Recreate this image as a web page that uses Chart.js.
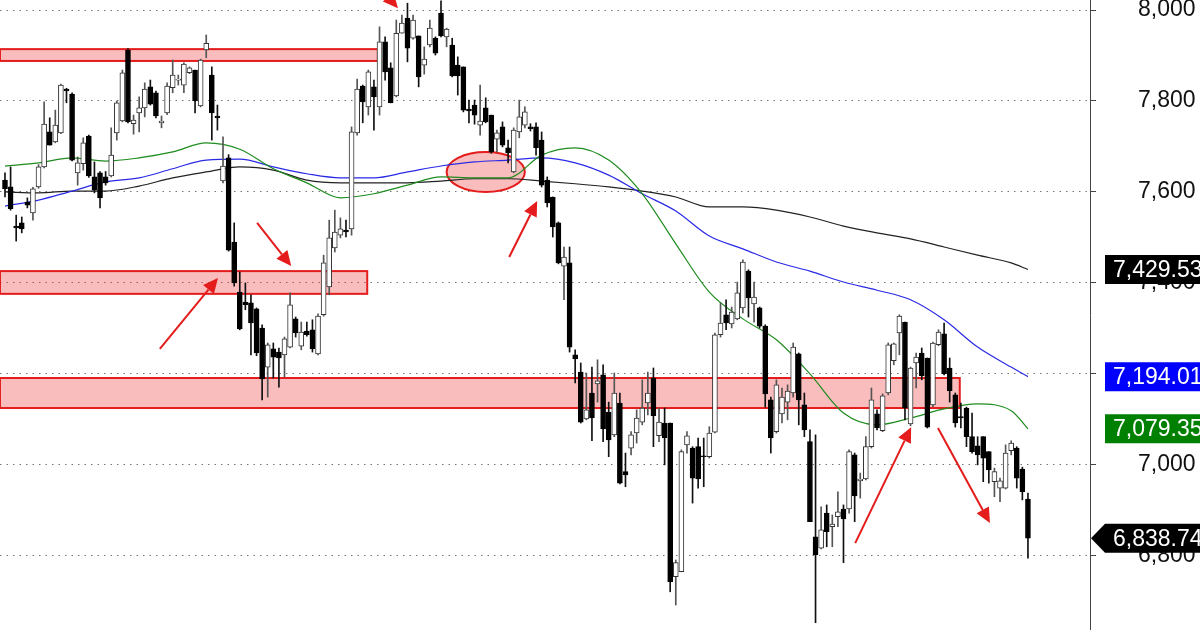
<!DOCTYPE html>
<html><head><meta charset="utf-8">
<script src="https://cdn.jsdelivr.net/npm/chart.js@4.4.1/dist/chart.umd.min.js"></script>
<style>html,body{margin:0;padding:0;background:#fff;overflow:hidden}#wrap{width:1200px;height:630px}</style>
</head><body><div id="wrap"><canvas id="c" width="1200" height="630"></canvas></div>
<script>
// ---- candle data (one per session) ----
const OPEN=[7626,7611,7525,7532,7578,7554,7611,7655,7732,7710,
7730,7826,7815,7642,7662,7723,7633,7642,7633,7635,
7730,7756,7912,7750,7774,7785,7831,7818,7752,7774,
7829,7846,7835,7862,7868,7789,7912,7857,7767,7624,
7675,7490,7380,7358,7356,7343,7301,7215,7255,7248,
7242,7259,7321,7261,7294,7297,7244,7330,7391,7477,
7505,7516,7519,7730,7833,7787,7831,7787,7930,7873,
7811,7949,7982,7938,7943,7879,7923,7938,7993,7941,
7923,7879,7875,7782,7791,7747,7785,7769,7716,7743,
7697,7644,7732,7747,7743,7743,7714,7626,7589,7532,
7437,7444,7242,7204,7101,7158,7178,7198,7116,7066,
7136,6985,7037,7070,7094,7136,7191,7064,7092,7092,
6754,6765,7044,7037,7040,7020,7018,7072,7286,7330,
7310,7321,7345,7426,7354,7345,7305,7143,7073,7112,
7138,7158,7244,7132,7051,6842,6817,6894,6864,6886,
6903,6903,7022,6965,6969,7040,7112,7075,7158,7229,
7290,7314,7090,7224,7246,7235,7132,7264,7288,7213,
7154,7106,7125,7062,7042,7062,7029,6963,6949,6949,
7031,7037,6991,6925];
const HIGH=[7642,7655,7549,7545,7587,7610,7660,7798,7763,7780,
7837,7828,7818,7677,7719,7725,7666,7645,7645,7741,
7800,7868,7915,7769,7809,7840,7846,7822,7767,7840,
7890,7857,7884,7875,7868,7892,7945,7875,7791,7721,
7682,7532,7424,7400,7374,7345,7308,7268,7268,7257,
7281,7378,7325,7314,7314,7319,7332,7461,7538,7560,
7543,7538,7743,7848,7835,7868,7846,7963,7941,7884,
7978,7989,8015,7989,7943,7919,7978,7941,8020,7960,
7938,7897,7875,7802,7802,7835,7807,7769,7736,7754,
7714,7741,7802,7787,7750,7752,7732,7633,7589,7534,
7479,7479,7253,7224,7202,7215,7231,7220,7138,7202,
7158,7026,7073,7121,7187,7204,7213,7125,7125,7092,
6791,7033,7073,7040,7059,7059,7084,7290,7356,7363,
7347,7402,7451,7429,7402,7347,7308,7149,7187,7169,
7176,7268,7246,7158,7077,7066,6908,6912,6890,6941,
6912,7033,7026,6982,7062,7169,7121,7156,7268,7268,
7330,7314,7215,7246,7257,7235,7270,7297,7312,7235,
7158,7136,7127,7114,7062,7062,7029,6993,6971,7044,
7053,7040,6995,6938];
const LOW=[7589,7560,7492,7510,7565,7538,7608,7653,7703,7708,
7728,7796,7668,7615,7648,7632,7598,7565,7615,7633,
7714,7754,7752,7727,7732,7765,7791,7763,7741,7770,
7818,7835,7818,7860,7774,7787,7895,7714,7736,7620,
7470,7393,7297,7341,7242,7240,7143,7149,7191,7171,
7193,7257,7281,7253,7283,7248,7242,7327,7374,7468,
7499,7501,7505,7725,7752,7769,7736,7769,7846,7796,
7809,7949,7886,7936,7831,7859,7919,7901,7941,7919,
7853,7813,7776,7752,7749,7725,7752,7685,7688,7699,
7664,7642,7719,7741,7734,7681,7611,7567,7501,7442,
7363,7248,7180,7092,7099,7053,7138,7051,7018,7062,
6958,6952,7022,7048,7088,7110,7040,7051,7000,6721,
6692,6765,7026,6916,6949,6952,7015,7070,7281,7297,
7301,7319,7334,7325,7314,7301,7127,7026,7070,7092,
7099,7149,7088,7062,6875,6653,6815,6820,6820,6864,
6785,6894,6875,6927,6967,7037,7077,7073,7154,7220,
7242,7099,7086,7169,7187,7081,7128,7262,7198,7138,
7083,7081,7040,7026,7000,6963,6960,6930,6919,6947,
7022,6949,6923,6795];
const CLOSE=[7607,7563,7521,7519,7571,7607,7655,7749,7703,7747,
7835,7822,7670,7664,7708,7635,7604,7587,7620,7681,
7796,7862,7754,7758,7785,7826,7793,7767,7756,7833,
7857,7848,7881,7873,7800,7890,7927,7774,7763,7657,
7472,7400,7299,7352,7312,7246,7189,7264,7237,7235,
7277,7352,7290,7292,7286,7255,7327,7444,7499,7512,
7519,7512,7732,7826,7798,7864,7809,7930,7864,7796,
7949,7971,7916,7978,7853,7892,7960,7905,7943,7958,
7855,7855,7780,7778,7769,7756,7754,7688,7730,7703,
7686,7736,7765,7776,7739,7697,7615,7576,7523,7444,
7457,7259,7233,7094,7121,7103,7185,7079,7055,7158,
6960,6978,7066,7103,7125,7158,7108,7094,7059,6743,
6785,7029,7064,6971,6969,7018,7070,7286,7312,7312,
7336,7378,7446,7367,7369,7305,7156,7059,7176,7149,
7162,7259,7143,7077,6875,6802,6857,6853,6870,6897,
6881,7029,6932,6969,7040,7143,7081,7152,7264,7266,
7327,7125,7213,7237,7196,7083,7268,7292,7200,7163,
7092,7103,7062,7029,7022,7015,6989,6985,6965,7026,
7048,6971,6941,6838.74];

// ---- moving averages, read at these candle indices ----
const MA_IDX=[0,6,12,18,24,30,36,42,48,54,60,66,72,78,84,90,96,102,108,114,120,126,132,138,144,150,156,162,168,174,180,183];
const MA_FAST=[7657,7664,7675,7668,7675,7688,7708,7694,7651,7620,7587,7596,7615,7633,7631,7631,7681,7697,7670,7596,7486,7380,7321,7275,7200,7114,7088,7103,7123,7134,7119,7079.35];
const MA_MID=[7569,7582,7602,7622,7631,7651,7670,7672,7655,7640,7631,7631,7644,7657,7666,7670,7675,7664,7637,7596,7558,7503,7475,7446,7426,7402,7384,7363,7319,7259,7215,7194.01];
const MA_SLOW=[7600,7598,7602,7602,7613,7631,7644,7655,7648,7626,7620,7620,7620,7624,7629,7629,7624,7618,7611,7602,7589,7567,7567,7560,7545,7525,7510,7497,7479,7461,7444,7429.53];

// ---- axis ticks ----
const Y_TICKS=[6800,7000,7200,7400,7600,7800,8000];

// ---- price tags on the axis ----
const TAG_VALUES=[7429.53,7194.01,7079.35,6838.74];

// ---- drawn annotations (candle index / price) ----
const ZONE_FROM=[-0.9,-0.9,-0.9];
const ZONE_TO=[66.7,64.8,170.8];
const ZONE_LOW=[7888,7376,7125];
const ZONE_HIGH=[7914,7426,7191];
const ELLIPSE_IDX=[86.0], ELLIPSE_VAL=[7644], ELLIPSE_RIDX=[7.0], ELLIPSE_RVAL=[44];
const ARROW_FROM_IDX=[27.7,45.1,90.2,152.1,166.9,64.4];
const ARROW_FROM_VAL=[7255,7532,7457,6828,7081,8088];
const ARROW_TO_IDX=[38.1,51.2,95.2,162.1,176.2,70.3];
const ARROW_TO_VAL=[7411,7437,7580,7083,6872,8004];

// ---- styles ----
const TAG_COLORS=['#000000','#0000ff','#008000','#000000'];
const TAG_POINTER=[false,false,false,true];
const FONT='"Liberation Sans", Arial, sans-serif';
const RED='#e41c1c', PINK='rgba(238,50,50,0.32)';

const N=OPEN.length;
const idx=[...Array(N).keys()];
const up=idx.map(i=>CLOSE[i]>=OPEN[i]);
const fmt=v=>v.toLocaleString('en-US');

const bgPlugin={id:'bg',beforeDraw(ch){const c=ch.ctx;c.save();c.fillStyle='#fff';c.fillRect(0,0,ch.width,ch.height);c.restore();}};

const annoPlugin={id:'anno',
 beforeDatasetsDraw(ch){
  const c=ch.ctx,xs=ch.scales.x,ys=ch.scales.y,a=ch.chartArea;
  c.save();c.beginPath();c.rect(a.left,a.top,a.right-a.left,a.bottom-a.top);c.clip();
  for(let k=0;k<ZONE_FROM.length;k++){
   const x0=xs.getPixelForValue(ZONE_FROM[k]),x1=xs.getPixelForValue(ZONE_TO[k]);
   const y0=ys.getPixelForValue(ZONE_HIGH[k]),y1=ys.getPixelForValue(ZONE_LOW[k]);
   c.fillStyle=PINK;c.fillRect(x0,y0,x1-x0,y1-y0);
   c.strokeStyle=RED;c.lineWidth=2;c.strokeRect(x0,y0,x1-x0,y1-y0);
  }
  for(let k=0;k<ELLIPSE_IDX.length;k++){
   const cx=xs.getPixelForValue(ELLIPSE_IDX[k]),cy=ys.getPixelForValue(ELLIPSE_VAL[k]);
   const rx=Math.abs(xs.getPixelForValue(ELLIPSE_IDX[k]+ELLIPSE_RIDX[k])-cx);
   const ry=Math.abs(ys.getPixelForValue(ELLIPSE_VAL[k]+ELLIPSE_RVAL[k])-cy);
   c.beginPath();c.ellipse(cx,cy,rx,ry,0,0,Math.PI*2);
   c.fillStyle=PINK;c.fill();c.strokeStyle=RED;c.lineWidth=2;c.stroke();
  }
  c.restore();
 },
 afterDatasetsDraw(ch){
  const c=ch.ctx,xs=ch.scales.x,ys=ch.scales.y,a=ch.chartArea;
  c.save();c.beginPath();c.rect(a.left,a.top,a.right-a.left,a.bottom-a.top);c.clip();
  for(let k=0;k<ARROW_FROM_IDX.length;k++){
   const x0=xs.getPixelForValue(ARROW_FROM_IDX[k]),y0=ys.getPixelForValue(ARROW_FROM_VAL[k]);
   const x1=xs.getPixelForValue(ARROW_TO_IDX[k]),y1=ys.getPixelForValue(ARROW_TO_VAL[k]);
   const ang=Math.atan2(y1-y0,x1-x0),hl=15,hw=7;
   const bx=x1-hl*Math.cos(ang),by=y1-hl*Math.sin(ang);
   c.strokeStyle=RED;c.lineWidth=2;c.beginPath();c.moveTo(x0,y0);c.lineTo(bx,by);c.stroke();
   c.fillStyle=RED;c.beginPath();c.moveTo(x1,y1);
   c.lineTo(bx+hw*Math.sin(ang),by-hw*Math.cos(ang));
   c.lineTo(bx-hw*Math.sin(ang),by+hw*Math.cos(ang));c.closePath();c.fill();
  }
  c.restore();
 },
 afterDraw(ch){
  const c=ch.ctx,ys=ch.scales.y,L=ys.left;
  c.save();c.font='23px '+FONT;c.textBaseline='middle';c.textAlign='left';
  TAG_VALUES.forEach((v,k)=>{
   const y=ys.getPixelForValue(v),h=29,x0=L+15;
   c.fillStyle=TAG_COLORS[k];c.beginPath();
   if(TAG_POINTER[k]){c.moveTo(L+1,y);c.lineTo(x0,y-h/2);c.lineTo(ch.width,y-h/2);c.lineTo(ch.width,y+h/2);c.lineTo(x0,y+h/2);c.closePath();}
   else c.rect(x0,y-h/2,ch.width-x0,h);
   c.fill();
   c.fillStyle='#fff';c.fillText(v.toLocaleString('en-US',{minimumFractionDigits:2,maximumFractionDigits:2}),L+23,y+1);
  });
  c.restore();
 }
};

new Chart(document.getElementById('c'),{
 type:'bar',
 data:{datasets:[
  {type:'bar',label:'body',data:idx.map(i=>({x:i,y:[Math.min(OPEN[i],CLOSE[i]),Math.max(OPEN[i],CLOSE[i])]})),
   backgroundColor:idx.map(i=>up[i]?'#ffffff':'#000000'),borderColor:idx.map(i=>up[i]?'#333333':'#000000'),
   borderWidth:1,borderSkipped:false,barThickness:5,grouped:false,order:0},
  {type:'bar',label:'wick',data:idx.map(i=>({x:i,y:[LOW[i],HIGH[i]]})),
   backgroundColor:idx.map(i=>up[i]?'#555555':'#111111'),borderWidth:0,barThickness:1,grouped:false,order:1},
  {type:'line',label:'fast',data:MA_IDX.map((x,k)=>({x,y:MA_FAST[k]})),borderColor:'#1e8c1e',borderWidth:1.2,pointRadius:0,cubicInterpolationMode:'monotone',order:2},
  {type:'line',label:'mid',data:MA_IDX.map((x,k)=>({x,y:MA_MID[k]})),borderColor:'#2a2ae6',borderWidth:1.2,pointRadius:0,cubicInterpolationMode:'monotone',order:3},
  {type:'line',label:'slow',data:MA_IDX.map((x,k)=>({x,y:MA_SLOW[k]})),borderColor:'#222222',borderWidth:1.2,pointRadius:0,cubicInterpolationMode:'monotone',order:4}
 ]},
 options:{responsive:false,animation:false,events:[],
  layout:{padding:0,autoPadding:false},
  plugins:{legend:{display:false},tooltip:{enabled:false}},
  scales:{
   x:{type:'linear',min:-0.894,max:194.1,display:false,offset:false,grid:{offset:false}},
   y:{position:'right',min:6637,max:8022,
    afterBuildTicks:s=>{s.ticks=Y_TICKS.map(v=>({value:v}));},
    afterFit:s=>{s.width=110;s.paddingTop=0;s.paddingBottom=0;},
    grid:{color:'#777777',lineWidth:1,tickLength:6,drawTicks:true,tickBorderDash:[],tickColor:'#444444'},
    border:{display:true,color:'#444444',width:1,dash:[1.5,5]},
    ticks:{padding:42,color:'#111111',font:{family:FONT,size:23},callback:v=>fmt(v)}}
  }
 },
 plugins:[bgPlugin,annoPlugin]
});
</script></body></html>
